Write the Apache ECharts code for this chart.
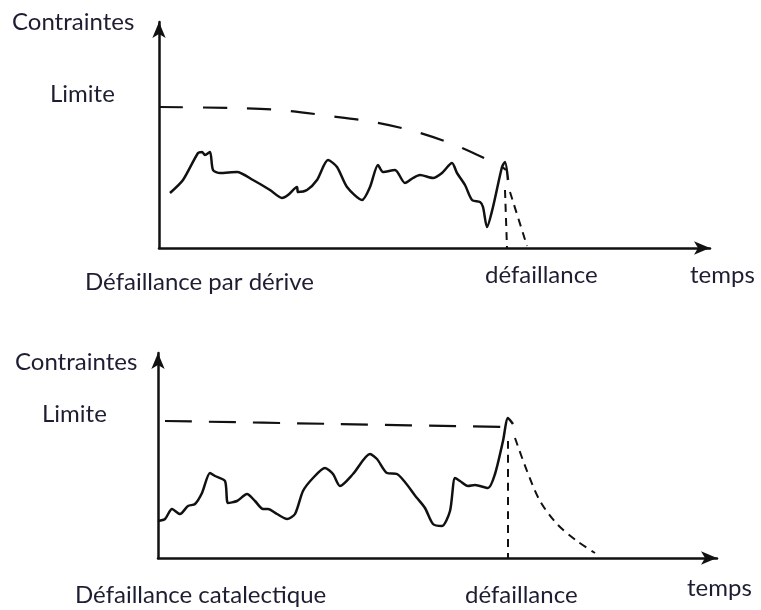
<!DOCTYPE html>
<html>
<head>
<meta charset="utf-8">
<script src="https://cdn.jsdelivr.net/npm/echarts@6/dist/echarts.min.js"></script>
<style>
  html, body { margin: 0; padding: 0; background: #fff; }
  #chart { width: 761px; height: 610px; }
</style>
</head>
<body>
<div id="chart"></div>
<script>
// Arbitrary units: [temps, contraintes]
const driftStress = [
    [11, 55], [24, 68], [39, 95], [43, 96], [46, 93], [51, 96], [54, 78], [61, 75],
    [78, 76], [94, 68], [111, 58], [123, 50], [129, 53], [138, 61], [139, 56], [148, 58],
    [158, 68], [169, 88], [178, 81], [188, 61], [203, 48], [211, 61], [219, 83], [224, 76],
    [236, 78], [246, 65], [254, 70], [261, 73], [274, 70], [283, 75], [293, 85], [298, 75],
    [306, 63], [313, 48], [321, 46], [324, 41], [328, 21], [334, 41], [343, 81], [346, 86],
    [349, 68]
];
const driftLimit = [
    [0, 141], [71, 140], [121, 138], [171, 132], [214, 126], [258, 116], [301, 101], [343, 81], [347, 78]
];
const driftDrop1 = [[346, 58], [348, 0]];
const driftDrop2 = [[351, 56], [368, 2]];

const cataStress = [
    [0, 37], [7, 39], [14, 49], [22, 44], [30, 52], [37, 54], [44, 65], [52, 85],
    [57, 82], [67, 77], [70, 55], [79, 57], [89, 64], [97, 57], [105, 49], [110, 49],
    [119, 44], [129, 39], [137, 44], [145, 67], [155, 80], [167, 90], [175, 84], [182, 72],
    [195, 84], [212, 104], [219, 99], [229, 85], [239, 84], [259, 60], [267, 50], [275, 34],
    [284, 32], [292, 47], [297, 80], [302, 77], [310, 72], [317, 73], [330, 70], [337, 84],
    [345, 117], [350, 140], [355, 134]
];
const cataLimit = [[7, 137], [180, 134], [345, 131]];
const cataDrop = [[350, 117], [350, 0]];
const cataDecay = [[357, 120], [369, 87], [382, 57], [399, 34], [419, 17], [437, 5]];

const labelsTop = ['Contraintes', 'Limite', 'Défaillance par dérive', 'défaillance', 'temps'];
const labelsBottom = ['Contraintes', 'Limite', 'Défaillance catalectique', 'défaillance', 'temps'];

const INK = '#111';
const TEXT = '#1e1e33';
const FONT = 'Lato, "Open Sans", sans-serif';

const chart = echarts.init(document.getElementById('chart'));

function axisPair(gridIndex, xMax, yMax) {
    const line = {
        show: true,
        symbol: ['none', 'arrow'],
        symbolSize: [10, 16],
        lineStyle: { color: INK, width: 2.5 }
    };
    return {
        x: {
            type: 'value', gridIndex, min: 0, max: xMax,
            axisLine: line, axisTick: { show: false }, axisLabel: { show: false },
            splitLine: { show: false }
        },
        y: {
            type: 'value', gridIndex, min: 0, max: yMax,
            axisLine: line, axisTick: { show: false }, axisLabel: { show: false },
            splitLine: { show: false }
        }
    };
}

const a1 = axisPair(0, 551, 226);
const a2 = axisPair(1, 559, 205);

function solid(data, xi) {
    return {
        type: 'line', xAxisIndex: xi, yAxisIndex: xi, data,
        symbol: 'none', smooth: 0.25, silent: true,
        lineStyle: { color: INK, width: 2.5 }
    };
}
function dashed(data, xi, dash, width) {
    return {
        type: 'line', xAxisIndex: xi, yAxisIndex: xi, data,
        symbol: 'none', smooth: 0.3, silent: true,
        lineStyle: { color: INK, width: width || 2.2, type: dash }
    };
}

function txt(str, x, y) {
    return {
        type: 'text', left: x, top: y - 12,
        style: { text: str, fill: TEXT, font: '24px ' + FONT }
    };
}

chart.setOption({
    animation: false,
    backgroundColor: '#fff',
    grid: [
        { left: 159, top: 22, width: 551, height: 226 },
        { left: 158, top: 353, width: 559, height: 205 }
    ],
    xAxis: [a1.x, a2.x],
    yAxis: [a1.y, a2.y],
    series: [
        solid(driftStress, 0),
        dashed(driftLimit, 0, [24, 20], 2.2),
        dashed(driftDrop1, 0, [8, 6], 2),
        dashed(driftDrop2, 0, [8, 6], 2),
        solid(cataStress, 1),
        dashed(cataLimit, 1, [27, 17], 2.2),
        dashed(cataDrop, 1, [8, 6], 2),
        dashed(cataDecay, 1, [8, 6], 2)
    ],
    graphic: [
        txt(labelsTop[0], 12, 22),
        txt(labelsTop[1], 50, 94),
        txt(labelsTop[2], 85, 282),
        txt(labelsTop[3], 485, 275),
        txt(labelsTop[4], 690, 275),
        txt(labelsBottom[0], 15, 362),
        txt(labelsBottom[1], 42, 414),
        txt(labelsBottom[2], 75, 595),
        txt(labelsBottom[3], 465, 595),
        txt(labelsBottom[4], 687, 588)
    ]
});
</script>
</body>
</html>
